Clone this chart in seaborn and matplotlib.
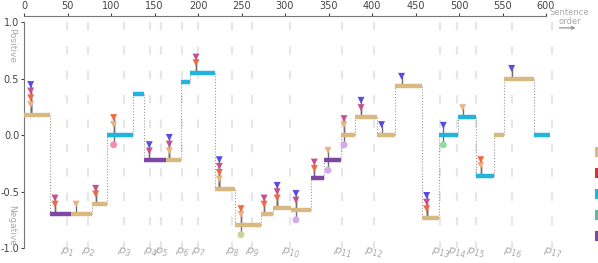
import matplotlib
matplotlib.use("Agg")
import pandas as pd
import matplotlib.pyplot as plt
import seaborn as sns
from matplotlib.patches import Rectangle

# 句子情感分段（起点、终点、情感值、类型）
seg_start = [0, 30, 53.6, 77.8, 95.8, 125.7, 138, 163, 180, 191, 219, 242, 272, 286,
             307, 330, 345, 364, 381, 406, 426, 458, 477, 499, 520, 540, 552, 586]
seg_end = [30, 53.6, 77.8, 95.8, 125.7, 138, 163, 180, 191, 219, 242, 272, 286, 307,
           330, 345, 364, 381, 406, 426, 458, 477, 499, 520, 540, 552, 586, 605]
seg_value = [0.18, -0.695, -0.695, -0.61, 0.0, 0.367, -0.223, -0.223, 0.467, 0.553,
             -0.477, -0.79, -0.70, -0.645, -0.663, -0.38, -0.223, 0.0, 0.157, 0.0,
             0.43, -0.733, 0.0, 0.16, -0.36, 0.0, 0.50, 0.0]
seg_kind = ['tan', 'purple', 'tan', 'tan', 'cyan', 'cyan', 'purple', 'tan', 'cyan', 'cyan',
            'tan', 'tan', 'tan', 'tan', 'tan', 'purple', 'purple', 'tan', 'tan', 'tan',
            'tan', 'tan', 'cyan', 'cyan', 'cyan', 'tan', 'tan', 'cyan']

# 标记点（所属分段、位置、值、类型）
mark_seg = [0, 0, 0, 0, 1, 1, 2, 3, 3, 4, 4, 4, 6, 6, 7, 7, 7, 9, 9,
            10, 10, 10, 10, 11, 11, 11, 12, 12, 13, 13, 13, 14, 14, 14,
            15, 15, 16, 16, 17, 17, 17, 18, 18, 19, 20, 21, 21, 21,
            22, 22, 23, 24, 24, 26]
mark_x = [7.7, 7.7, 7.7, 7.7, 35.6, 35.6, 59.8, 82.4, 82.4, 103, 103, 103, 144, 144,
          167, 167, 167, 197.7, 197.7,
          224.5, 224.5, 224.5, 224.5, 249.4, 249.4, 249.4, 276, 276, 291, 291, 291,
          312.6, 312.6, 312.6, 333.7, 333.7, 349.4, 349.4, 367.8, 367.8, 367.8,
          387.4, 387.4, 411, 434, 462.8, 462.8, 462.8, 482, 482, 504.2, 525, 525, 560.5]
mark_y = [0.27, 0.33, 0.39, 0.447, -0.61, -0.556, -0.61, -0.52, -0.47, 0.095, 0.155, -0.085,
          -0.14, -0.084, -0.14, -0.08, -0.02, 0.64, 0.69,
          -0.388, -0.33, -0.276, -0.217, -0.70, -0.65, -0.88, -0.61, -0.556, -0.556, -0.5,
          -0.444, -0.574, -0.515, -0.748, -0.294, -0.238, -0.134, -0.31, 0.093, 0.146,
          -0.085, 0.243, 0.308, 0.093, 0.52, -0.65, -0.592, -0.533, 0.087, -0.085, 0.243,
          -0.267, -0.217, 0.59]
mark_kind = ['t_tan', 't_orange', 't_magenta', 't_blue', 't_orange', 't_magenta', 't_tan',
             't_orange', 't_magenta', 't_tan', 't_orange', 'c_pink', 't_magenta', 't_blue',
             't_tan', 't_magenta', 't_blue', 't_orange', 't_magenta',
             't_tan', 't_orange', 't_magenta', 't_blue', 't_tan', 't_orange', 'c_olive',
             't_orange', 't_magenta', 't_orange', 't_magenta', 't_blue', 't_magenta', 't_blue',
             'c_lavender', 't_orange', 't_magenta', 't_tan', 'c_lavender', 't_tan', 't_magenta',
             'c_lavender', 't_magenta', 't_blue', 't_blue', 't_blue', 't_orange', 't_magenta',
             't_blue', 't_blue', 'c_green', 't_tan', 't_tan', 't_orange', 't_blue']

# 段落边界
para_names = ['$p_{%d}$' % i for i in range(1, 18)]
para_pos = [49, 73.6, 115.3, 144.8, 157.5, 182, 200, 239, 261.7, 306, 366, 402,
            478.7, 497.7, 519, 561, 607]

# 右侧图例色块（文字在画面外）
legend_colors = ['#d9b982', '#c8383a', '#22b3de', '#5fb8a0', '#7d47a3']

seg_colors = {'tan': '#d9b982', 'cyan': '#22b3de', 'purple': '#7d47a3'}
mark_colors = {'t_tan': '#eab27f', 't_orange': '#f2683f', 't_magenta': '#c9508b',
               't_blue': '#5a4be0', 'c_pink': '#f58db5', 'c_olive': '#c9d49c',
               'c_lavender': '#d8a8ee', 'c_green': '#8fdd9f'}

sns.set_theme(style="white")
plt.rcParams['font.family'] = ['DejaVu Sans']
plt.rcParams['axes.unicode_minus'] = False

fig = plt.figure(figsize=(5.98, 2.63), dpi=100)
W, H = 598, 263
x_left, px_per_x = 24, 0.87
y_top_px, px_per_y = 22, 113.15
ax_w = 536
ylim = (-1.1, 1.05)
top_px = y_top_px - (ylim[1] - 1) * px_per_y
bot_px = y_top_px + (1 - ylim[0]) * px_per_y
ax = fig.add_axes([x_left / W, 1 - bot_px / H, ax_w / W, (bot_px - top_px) / H])
ax.set_xlim(0, ax_w / px_per_x)
ax.set_ylim(*ylim)

# 段落分隔虚线
for name, p in zip(para_names, para_pos):
    ax.plot([p, p], [1.0, -1.0], color='#e6e6e6', lw=1.5, dashes=(4, 7.7),
            zorder=0, clip_on=False, solid_capstyle='butt', dash_capstyle='butt')
    ax.text(p, -1.035, name, fontsize=8, color='#aaaaaa', rotation=-15,
            ha='center', va='center', rotation_mode='anchor', clip_on=False)

# 分段之间的点状连接线
for i in range(1, len(seg_start)):
    if seg_value[i] != seg_value[i - 1]:
        ax.vlines(seg_start[i], seg_value[i - 1], seg_value[i], colors='#9a9a9a',
                  lw=0.8, linestyles=(0, (1, 1.6)), zorder=1)

seg_df = pd.DataFrame({'start': seg_start, 'end': seg_end, 'value': seg_value, 'kind': seg_kind})
mk = pd.DataFrame({'seg': mark_seg, 'x': mark_x, 'y': mark_y, 'kind': mark_kind})
mk['shape'] = mk['kind'].str[0]
mk['base'] = seg_df['value'].values[mk['seg']]

# 标记的竖线
ax.vlines(mk['x'], mk['base'], mk['y'], colors='#6f6f6f', lw=1.0, zorder=2)

# 分段
for kind, g in seg_df.groupby('kind'):
    ax.hlines(g['value'], g['start'], g['end'], colors=seg_colors[kind], lw=3.2,
              zorder=3, clip_on=False)

sns.scatterplot(data=mk, x='x', y='y', hue='kind', palette=mark_colors, style='shape',
                markers={'t': 'v', 'c': 'o'}, s=25, linewidth=0, legend=False,
                zorder=4, ax=ax, clip_on=False)

# 坐标轴
ax.xaxis.tick_top()
ax.set_xticks(range(0, 601, 50))
ax.set_yticks([-1.0, -0.5, 0.0, 0.5, 1.0])
ax.set_yticklabels(['-1.0', '-0.5', '0.0', '0.5', '1.0'])
ax.tick_params(axis='x', top=True, bottom=False, length=2, width=0.8, pad=1.5,
               labelsize=7, colors='#444444')
ax.tick_params(axis='y', left=True, length=2, width=0.8, pad=1.5, labelsize=7,
               colors='#444444')
ax.set_xlabel('')
ax.set_ylabel('')
for side in ['bottom', 'right']:
    ax.spines[side].set_visible(False)
ax.spines['top'].set_bounds(0, 600)
ax.spines['left'].set_bounds(-1, 1)
for side in ['top', 'left']:
    ax.spines[side].set_color('#777777')
    ax.spines[side].set_linewidth(0.8)
ax.grid(False)

ax.text(-13.8, 0.79, 'Positive', rotation=270, fontsize=6.5, color='#aaaaaa',
        ha='center', va='center', clip_on=False)
ax.text(-13.8, -0.8, 'Negative', rotation=270, fontsize=6.5, color='#aaaaaa',
        ha='center', va='center', clip_on=False)

ax.text(627, 1.04, 'Sentence\norder', fontsize=6, color='#aaaaaa', ha='center',
        va='center', linespacing=1.0, clip_on=False)
ax.annotate('', xy=(637, 0.948), xytext=(612, 0.948),
            arrowprops=dict(arrowstyle='->', color='#888888', lw=0.8,
                            mutation_scale=5), annotation_clip=False)

# 图例色块（标签位于画面右侧之外）
for i, c in enumerate(legend_colors):
    y_px = 147 + i * 21
    fig.add_artist(Rectangle((595 / W, 1 - (y_px + 10) / H), 8 / W, 10 / H,
                             transform=fig.transFigure, facecolor=c, edgecolor='none'))

fig.savefig('out.png', dpi=100)
